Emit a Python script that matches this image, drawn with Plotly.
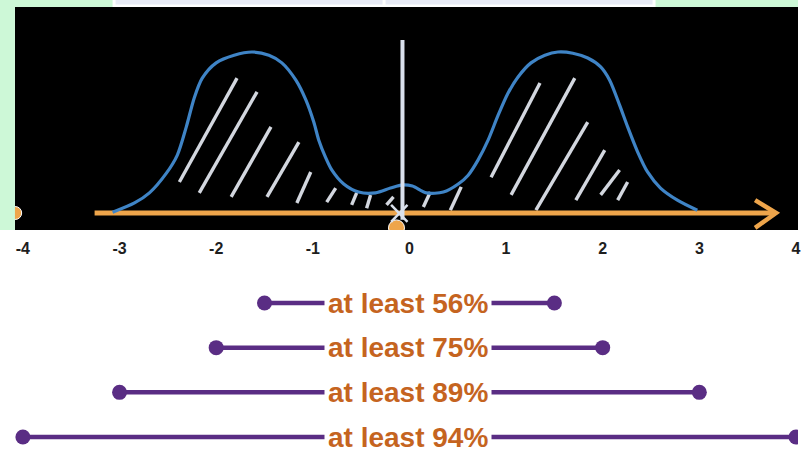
import plotly.graph_objects as go

# ---------------- data ----------------
# bimodal density curve (x in standard deviations, y density)
curve_x = [-3.072, -2.845, -2.691, -2.515, -2.402, -2.309, -2.227, -2.144, -2.0, -1.814,
           -1.629, -1.454, -1.320, -1.175, -1.072, -0.990, -0.938, -0.866, -0.804, -0.680,
           -0.526, -0.351, -0.196, -0.072, 0.031, 0.175, 0.351, 0.505, 0.608, 0.711,
           0.814, 0.918, 1.021, 1.124, 1.258, 1.402, 1.536, 1.691, 1.845, 1.979,
           2.072, 2.175, 2.258, 2.361, 2.464, 2.598, 2.773, 2.979]
curve_y = [0.002, 0.025, 0.050, 0.099, 0.144, 0.214, 0.286, 0.335, 0.373, 0.392,
           0.400, 0.392, 0.373, 0.330, 0.281, 0.226, 0.181, 0.137, 0.107, 0.072,
           0.052, 0.050, 0.062, 0.070, 0.067, 0.050, 0.052, 0.072, 0.094, 0.132,
           0.181, 0.243, 0.298, 0.338, 0.373, 0.392, 0.400, 0.397, 0.385, 0.363,
           0.330, 0.268, 0.214, 0.152, 0.102, 0.062, 0.032, 0.007]

# hand-drawn hatch strokes: (x0, y0, x1, y1)
hatch_strokes = [
    (-2.381, 0.077, -1.784, 0.335), (-2.175, 0.050, -1.577, 0.301),
    (-1.845, 0.040, -1.433, 0.214), (-1.474, 0.040, -1.144, 0.176),
    (-1.165, 0.025, -1.021, 0.102), (-0.856, 0.027, -0.763, 0.062),
    (-0.598, 0.020, -0.546, 0.050), (-0.443, 0.012, -0.402, 0.045),
    (-0.237, 0.020, -0.165, 0.040),
    (0.144, 0.015, 0.216, 0.052), (0.423, 0.007, 0.536, 0.065),
    (0.845, 0.089, 1.351, 0.323), (1.052, 0.045, 1.711, 0.335),
    (1.309, 0.007, 1.845, 0.226), (1.722, 0.032, 2.021, 0.156),
    (1.979, 0.045, 2.175, 0.107), (2.155, 0.032, 2.258, 0.077),
]

# axis drawing
axis_x = [-3.258, 3.784]
arrow_x = [3.577, 3.794, 3.577]
arrow_y = [0.032, 0.0, -0.037]
mean_line_x = -0.072
mean_line_y = [0.430, -0.017]

tick_vals = [-4, -3, -2, -1, 0, 1, 2, 3, 4]
tick_text = ["-4", "-3", "-2", "-1", "0", "1", "2", "3", "4"]

# Chebyshev intervals
k_values = [1.5, 2, 3, 4]
interval_labels = ["at least 56%", "at least 75%", "at least 89%", "at least 94%"]
rows = [1, 2, 3, 4]

# ---------------- figure ----------------
W, H = 801, 453
BLUE = "#3f84c6"
ORANGE = "#eea54b"
HATCH = "#d3d7df"
PURPLE = "#5a2d84"
TEXT_OR = "#c5641f"

fig = go.Figure()

# hatch strokes
hx, hy = [], []
for x0, y0, x1, y1 in hatch_strokes:
    hx += [x0, x1, None]
    hy += [y0, y1, None]
fig.add_trace(go.Scatter(x=hx, y=hy, mode="lines", line=dict(color=HATCH, width=3.4),
                         hoverinfo="skip", showlegend=False))

# orange axis + arrow
fig.add_trace(go.Scatter(x=axis_x, y=[0, 0], mode="lines", line=dict(color=ORANGE, width=5),
                         showlegend=False, hoverinfo="skip"))
fig.add_trace(go.Scatter(x=arrow_x, y=arrow_y, mode="lines", line=dict(color=ORANGE, width=4.5),
                         showlegend=False, hoverinfo="skip"))
fig.add_trace(go.Scatter(x=[-4.08, -0.134], y=[0, -0.037], mode="markers",
                         marker=dict(color=ORANGE, size=[13, 16], opacity=1),
                         showlegend=False, hoverinfo="skip"))

# density curve
fig.add_trace(go.Scatter(x=curve_x, y=curve_y, mode="lines",
                         line=dict(color=BLUE, width=3.2, shape="spline", smoothing=0.8),
                         showlegend=False, hoverinfo="skip"))

# mean line and little cross
fig.add_trace(go.Scatter(x=[mean_line_x, mean_line_x], y=mean_line_y, mode="lines",
                         line=dict(color="#d9e0ec", width=4), showlegend=False, hoverinfo="skip"))
fig.add_trace(go.Scatter(x=[-0.19, -0.02, None, -0.19, -0.02], y=[0.020, -0.022, None, -0.022, 0.020],
                         mode="lines", line=dict(color="#d9e0ec", width=2.5),
                         showlegend=False, hoverinfo="skip"))

# intervals
for k, lab, r in zip(k_values, interval_labels, rows):
    fig.add_trace(go.Scatter(x=[-k, k], y=[r, r], mode="lines+markers", xaxis="x", yaxis="y2",
                             line=dict(color=PURPLE, width=4.5),
                             marker=dict(color=PURPLE, size=15),
                             showlegend=False, hoverinfo="skip"))
    fig.add_annotation(x=-0.01, y=r, xref="x", yref="y2", text=lab, showarrow=False,
                       bgcolor="white", borderpad=3,
                       font=dict(family="Liberation Sans, Arial, sans-serif", size=28,
                                 color=TEXT_OR, weight="bold"))

px2paper_y = lambda p: 1 - p / H
px2paper_x = lambda p: p / W

shapes = [
    # black panel
    dict(type="rect", xref="paper", yref="paper", x0=px2paper_x(15), x1=1,
         y0=px2paper_y(230), y1=px2paper_y(7), fillcolor="black", line_width=0, layer="below"),
    # green left column (above to clip the dot)
    dict(type="rect", xref="paper", yref="paper", x0=0, x1=px2paper_x(15),
         y0=px2paper_y(230), y1=1, fillcolor="#cdf8d7", line_width=0, layer="above"),
    dict(type="rect", xref="paper", yref="paper", x0=0, x1=px2paper_x(113),
         y0=px2paper_y(7), y1=1, fillcolor="#cdf8d7", line_width=0, layer="above"),
    dict(type="rect", xref="paper", yref="paper", x0=px2paper_x(116), x1=px2paper_x(384),
         y0=px2paper_y(4.5), y1=1, fillcolor="#e8ebf6", line_width=0, layer="above"),
    dict(type="rect", xref="paper", yref="paper", x0=px2paper_x(387), x1=px2paper_x(655),
         y0=px2paper_y(4.5), y1=1, fillcolor="#e8ebf6", line_width=0, layer="above"),
    dict(type="rect", xref="paper", yref="paper", x0=px2paper_x(658), x1=1,
         y0=px2paper_y(7), y1=1, fillcolor="#cdf8d7", line_width=0, layer="above"),
]

fig.update_layout(
    width=W, height=H,
    margin=dict(l=0, r=0, t=0, b=0),
    paper_bgcolor="white", plot_bgcolor="rgba(0,0,0,0)",
    showlegend=False,
    shapes=shapes,
    xaxis=dict(range=[-4.237, 4.021], tickvals=tick_vals, ticktext=tick_text,
               showgrid=False, zeroline=False, showline=False, ticks="",
               anchor="y", ticklabelstandoff=7, ticklabeloverflow="allow",
               tickfont=dict(family="Liberation Sans, Arial, sans-serif", size=16,
                             color="#1e1e1e", weight="bold"),
               fixedrange=True),
    yaxis=dict(domain=[1 - 230 / H, 1 - 7 / H], range=[-0.0422, 0.5118],
               visible=False, fixedrange=True),
    yaxis2=dict(domain=[0, 1 - 260 / H], range=[4.358, 0.0373], anchor="x",
                visible=False, fixedrange=True),
)

fig.write_html("out.html", config={"displayModeBar": False},
               post_script="document.body.style.margin='0';document.body.style.overflow='hidden';")
